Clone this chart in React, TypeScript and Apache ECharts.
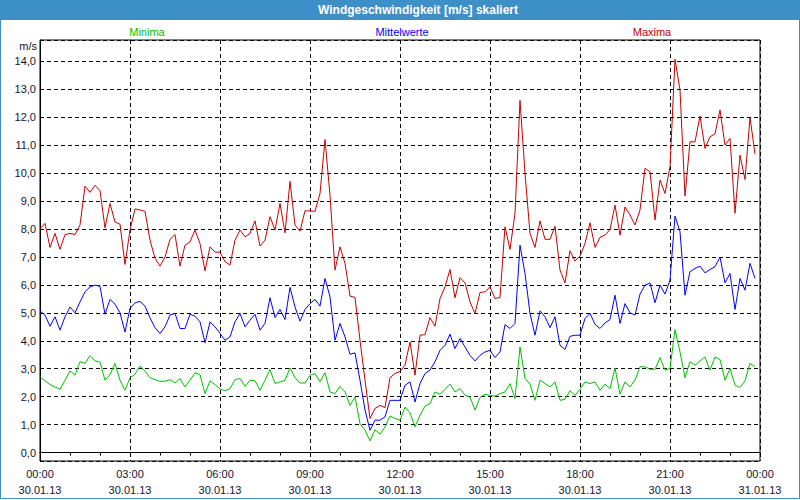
import React, { useEffect, useRef } from "react";
import * as echarts from "echarts";

// 10-minute samples, 30.01.13 00:00 .. 23:50
const maxima = [
  8.0, 8.2, 7.34, 7.84, 7.27, 7.8, 7.84, 7.8, 8.14, 9.53, 9.31, 9.56, 9.37, 8.04, 8.91, 8.25, 8.17, 6.73,
  7.96, 8.72, 8.68, 8.63, 7.6, 6.95, 6.67, 7.0, 7.63, 7.8, 6.67, 7.42, 7.54, 7.96, 7.48, 6.5, 7.36, 7.17,
  7.17, 6.83, 6.71, 7.6, 7.96, 7.72, 7.84, 8.29, 7.39, 7.6, 8.44, 7.96, 8.91, 7.86, 9.7, 8.14, 7.92, 8.65,
  8.65, 8.63, 9.27, 11.2, 9.2, 6.53, 7.36, 6.77, 5.6, 5.55, 4.02, 2.59, 1.22, 1.58, 1.69, 1.61, 2.68, 2.83,
  2.9, 3.13, 3.96, 2.77, 4.2, 4.22, 4.83, 4.52, 5.51, 5.93, 6.55, 5.54, 6.26, 6.07, 5.39, 4.98, 5.73, 5.75,
  5.93, 5.51, 5.55, 8.08, 7.27, 8.56, 12.6, 9.99, 7.84, 7.34, 8.29, 7.63, 7.63, 8.1, 6.53, 6.07, 7.22, 6.85,
  7.03, 7.48, 8.22, 7.34, 7.7, 7.78, 7.98, 8.85, 7.78, 8.79, 8.5, 8.14, 8.68, 10.17, 10.05, 8.32, 9.75, 9.27,
  10.23, 14.07, 12.97, 9.18, 11.12, 11.12, 12.04, 10.88, 11.3, 11.4, 12.26, 11.0, 11.24, 8.56, 10.64, 9.77, 11.99, 10.68,
];

const mittelwerte = [
  5.07, 4.92, 4.52, 4.86, 4.38, 4.86, 5.21, 5.0, 5.39, 5.75, 5.93, 5.99, 5.95, 4.95, 5.48, 5.31, 5.0, 4.31,
  5.16, 5.36, 5.41, 5.24, 4.82, 4.47, 4.26, 4.5, 4.92, 4.98, 4.44, 4.44, 4.95, 4.88, 4.68, 3.93, 4.67, 4.5,
  4.27, 4.02, 4.14, 4.68, 4.98, 4.5, 4.74, 4.95, 4.38, 4.62, 5.54, 4.83, 5.12, 4.76, 5.91, 5.21, 4.7, 5.12,
  5.33, 5.48, 5.24, 6.23, 5.57, 4.02, 4.62, 4.14, 3.52, 3.57, 2.59, 1.52, 0.8, 1.16, 1.16, 1.28, 1.87, 1.87,
  1.87, 2.41, 2.53, 1.81, 2.47, 2.83, 2.95, 3.25, 3.66, 3.84, 4.24, 3.72, 4.08, 3.78, 3.48, 3.28, 3.48, 3.6,
  3.66, 3.4, 3.6, 4.58, 4.44, 4.62, 7.42, 6.41, 4.98, 4.2, 5.07, 4.86, 4.47, 4.86, 3.84, 3.69, 4.16, 4.2,
  4.2, 4.8, 4.98, 4.59, 4.44, 4.64, 4.76, 5.63, 4.62, 5.33, 5.0, 4.92, 5.67, 5.99, 6.07, 5.36, 5.99, 5.67,
  6.17, 8.46, 7.9, 5.63, 6.47, 6.59, 6.67, 6.43, 6.55, 6.65, 7.0, 6.07, 6.41, 5.12, 6.23, 5.81, 6.77, 6.23,
];

const minima = [
  2.71, 2.57, 2.43, 2.35, 2.26, 2.59, 2.92, 2.77, 3.25, 3.19, 3.47, 3.28, 3.23, 2.59, 2.79, 3.19, 2.59, 2.23,
  2.68, 2.8, 3.1, 2.91, 2.68, 2.61, 2.55, 2.55, 2.61, 2.49, 2.65, 2.35, 2.59, 2.86, 2.79, 2.11, 2.57, 2.43,
  2.28, 2.21, 2.29, 2.61, 2.65, 2.37, 2.59, 2.57, 2.23, 2.59, 2.97, 2.47, 2.53, 2.59, 3.03, 2.68, 2.49, 2.49,
  2.77, 2.83, 2.53, 2.86, 2.17, 2.11, 2.37, 2.17, 1.69, 1.99, 1.04, 0.8, 0.42, 0.82, 0.66, 0.92, 1.31, 1.22,
  1.16, 1.63, 1.42, 0.92, 1.34, 1.66, 1.75, 2.17, 2.09, 2.26, 2.45, 2.17, 2.29, 2.05, 1.99, 1.52, 1.97, 2.09,
  2.05, 2.02, 2.11, 2.17, 2.47, 1.93, 3.78, 2.65, 2.45, 1.87, 2.59, 2.47, 2.35, 2.53, 1.87, 1.91, 2.21, 2.05,
  2.27, 2.53, 2.47, 2.53, 2.23, 2.45, 2.29, 3.03, 2.09, 2.53, 2.35, 2.59, 3.07, 3.07, 2.98, 2.98, 3.4, 2.95,
  3.01, 4.4, 3.6, 2.68, 3.25, 3.13, 3.28, 3.42, 2.95, 3.42, 3.33, 2.59, 3.01, 2.41, 2.33, 2.57, 3.19, 3.07,
];

const seriesNames = ["Minima", "Mittelwerte", "Maxima"];
const dayLabels = ["30.01.13", "31.01.13"];
const STEP_MIN = 10;

const FONT = '"Liberation Sans", Arial, sans-serif';
const C_MIN = "#00c000";
const C_MID = "#0000ff";
const C_MAX = "#c80000";
const FRAME = "#3d8fc7";
const LABEL = "#141432";

function toPairs(values: number[]) {
  return values.map((v, i) => [i * STEP_MIN, v]);
}

function timeLabel(v: number) {
  const day = Math.floor(v / 1440);
  const m = v - day * 1440;
  const hh = String(Math.floor(m / 60)).padStart(2, "0");
  const mm = String(m % 60).padStart(2, "0");
  return `${hh}:${mm}\n${dayLabels[day] ?? ""}`;
}

export default function App() {
  const ref = useRef<HTMLDivElement>(null);
  useEffect(() => {
    if (!ref.current) return;
    const chart = echarts.init(ref.current, null, { renderer: "svg" });
    const dashed = { color: "#000", width: 1, type: [4, 3] as any };
    chart.setOption({
      animation: false,
      backgroundColor: "#ffffff",
      grid: {
        left: 40,
        top: 40,
        right: 40,
        bottom: 39,
        show: true,
        borderColor: "#000",
        borderWidth: 1,
        backgroundColor: "#fff",
        containLabel: false,
      },
      xAxis: {
        type: "value",
        min: 0,
        max: 1440,
        interval: 180,
        axisLine: { show: true, lineStyle: { color: "#000", width: 1 } },
        axisTick: { show: true, length: 3, lineStyle: { color: "#000" } },
        minorTick: { show: true, splitNumber: 3, length: 3, lineStyle: { color: "#000" } },
        splitLine: { show: true, lineStyle: dashed },
        axisLabel: {
          formatter: (v: number) => timeLabel(v),
          color: LABEL,
          fontFamily: FONT,
          fontSize: 11,
          lineHeight: 16,
          margin: 5,
          showMinLabel: true,
          showMaxLabel: true,
        },
      },
      yAxis: {
        type: "value",
        min: -0.3,
        max: 14.76,
        splitNumber: 15,
        axisLine: { show: true, lineStyle: { color: "#000", width: 1 } },
        axisTick: { show: false },
        splitLine: { show: true, lineStyle: dashed },
        axisLabel: {
          showMinLabel: false,
          showMaxLabel: false,
          formatter: (v: number) =>
            Math.abs(v - Math.round(v)) < 1e-6 ? v.toFixed(1).replace(".", ",") : "",
          color: LABEL,
          fontFamily: FONT,
          fontSize: 11,
          margin: 4,
        },
      },
      series: [
        { name: seriesNames[0], data: toPairs(minima), color: C_MIN },
        { name: seriesNames[1], data: toPairs(mittelwerte), color: C_MID },
        { name: seriesNames[2], data: toPairs(maxima), color: C_MAX },
      ].map((s) => ({
        type: "line",
        name: s.name,
        data: s.data,
        showSymbol: false,
        symbol: "none",
        lineStyle: { color: s.color, width: 1 },
        itemStyle: { color: s.color },
      })),
      graphic: [
        {
          type: "rect",
          shape: { x: 0, y: 0, width: 800, height: 20 },
          style: { fill: FRAME },
          silent: true,
        },
        {
          type: "rect",
          shape: { x: 0.5, y: 0.5, width: 799, height: 498 },
          style: { fill: "none", stroke: FRAME, lineWidth: 1 },
          silent: true,
        },
        {
          type: "text",
          style: {
            text: "Windgeschwindigkeit [m/s] skaliert",
            x: 418,
            y: 10,
            fill: "#ffffff",
            font: `bold 12px ${FONT}`,
            textAlign: "center",
            textVerticalAlign: "middle",
          },
        },
        {
          type: "text",
          style: {
            text: seriesNames[0],
            x: 147,
            y: 32,
            fill: C_MIN,
            font: `11px ${FONT}`,
            textAlign: "center",
            textVerticalAlign: "middle",
          },
        },
        {
          type: "text",
          style: {
            text: seriesNames[1],
            x: 402,
            y: 32,
            fill: C_MID,
            font: `11px ${FONT}`,
            textAlign: "center",
            textVerticalAlign: "middle",
          },
        },
        {
          type: "text",
          style: {
            text: seriesNames[2],
            x: 652,
            y: 32,
            fill: C_MAX,
            font: `11px ${FONT}`,
            textAlign: "center",
            textVerticalAlign: "middle",
          },
        },
        {
          type: "text",
          style: {
            text: "m/s",
            x: 37,
            y: 46,
            fill: LABEL,
            font: `11px ${FONT}`,
            textAlign: "right",
            textVerticalAlign: "middle",
          },
        },
      ],
    });
    return () => chart.dispose();
  }, []);
  return (
    <div
      ref={ref}
      style={{ position: "absolute", left: 0, top: 0, width: 800, height: 500 }}
    />
  );
}
